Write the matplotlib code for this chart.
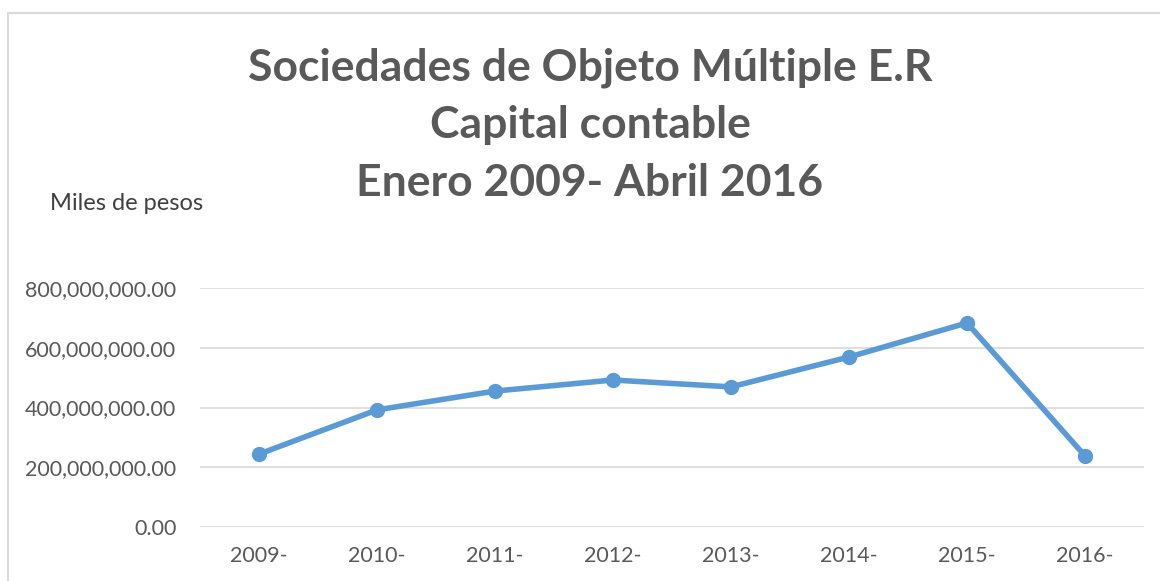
import matplotlib
matplotlib.use('Agg')
import matplotlib.pyplot as plt
from matplotlib.patches import Rectangle
from matplotlib.ticker import FuncFormatter

# Data
years = ['2009-', '2010-', '2011-', '2012-', '2013-', '2014-', '2015-', '2016-']
capital = [244e6, 392e6, 455e6, 492e6, 469e6, 569e6, 683e6, 238e6]
yticks = [0, 200e6, 400e6, 600e6, 800e6]
title_lines = ['Sociedades de Objeto Múltiple E.R', 'Capital contable', 'Enero 2009- Abril 2016']

plt.rcParams['font.family'] = ['Lato', 'DejaVu Sans']

fig = plt.figure(figsize=(11.6, 5.81), dpi=100)
ax = fig.add_axes([200/1160, 1 - 527/581, 944/1160, 239/581])

x = list(range(len(years)))
ax.plot(x, capital, color='#5B9BD5', linewidth=4, marker='o', markersize=10,
        solid_capstyle='round', zorder=3)

ax.set_xlim(-0.5, len(years) - 0.5)
ax.set_ylim(0, 800e6)
ax.set_yticks(yticks)
ax.yaxis.set_major_formatter(FuncFormatter(lambda v, p: '{:,.2f}'.format(v)))
ax.set_xticks(x)
ax.set_xticklabels(years)
ax.grid(axis='y', color='#D9D9D9', linewidth=1.2)
ax.set_axisbelow(True)
for s in ax.spines.values():
    s.set_visible(False)
ax.tick_params(length=0, labelsize=15.5, colors='#595959')
ax.tick_params(axis='y', pad=17)
ax.tick_params(axis='x', pad=14)

# title, one text per line
for line, yc in zip(title_lines, [68, 125, 183]):
    fig.text(590/1160, 1 - yc/581, line, ha='center', va='center',
             fontsize=32, fontweight='bold', color='#595959')
fig.text(50/1160, 1 - 204/581, 'Miles de pesos', ha='left', va='center',
         fontsize=17, color='#404040')

# chart frame
fig.patches.append(Rectangle((8/1160, -0.1), 1.2, 1.1 - 13/581, transform=fig.transFigure,
                             fill=False, edgecolor='#D9D9D9', linewidth=1.5))

fig.savefig('out.png', dpi=100)
